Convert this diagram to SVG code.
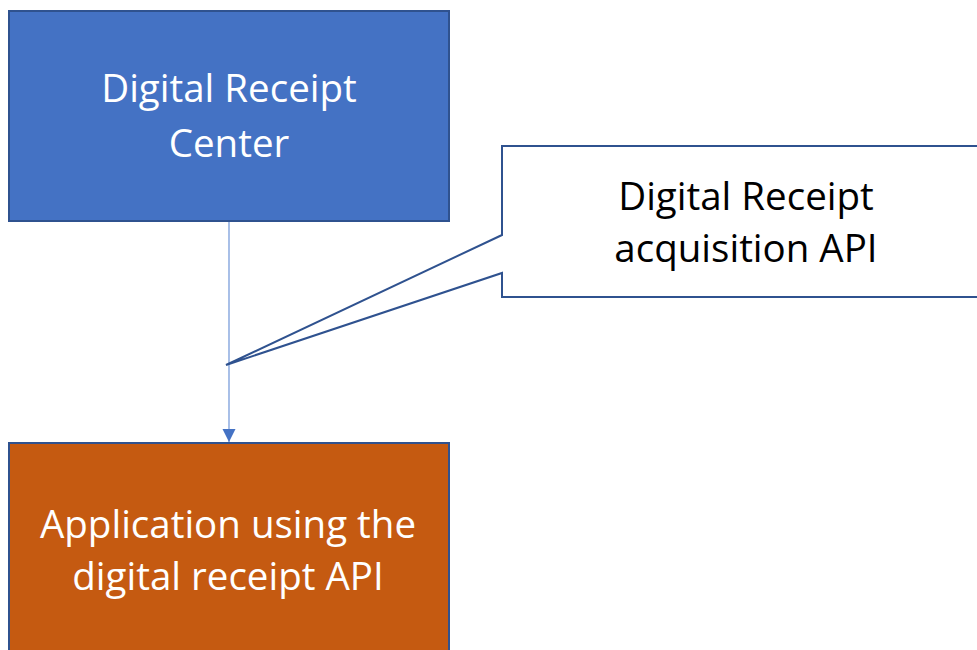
<svg xmlns="http://www.w3.org/2000/svg" width="977" height="650" viewBox="0 0 977 650">
<defs>
<style>
.t{font-family:"Open Sans","Liberation Sans",sans-serif;font-size:38.5px;text-anchor:middle}
.w{fill:#ffffff}
.k{fill:#000000}
.box{stroke:#2F528F;stroke-width:2}
</style>
<marker id="arr" markerWidth="14" markerHeight="14" refX="13" refY="6.5" orient="auto" markerUnits="userSpaceOnUse">
<path d="M0,0 L13,6.5 L0,13 Z" fill="#4472C4"/>
</marker>
</defs>
<rect width="977" height="650" fill="#ffffff"/>
<g id="connectors">
<line x1="229" y1="221" x2="229" y2="442" stroke="#6F95D8" stroke-width="1.2" marker-end="url(#arr)"/>
</g>
<g id="center">
<rect class="box" x="9" y="11" width="440" height="210" fill="#4472C4"/>
<text class="t w" x="229" y="102">Digital Receipt</text>
<text class="t w" x="229" y="157">Center</text>
</g>
<g id="application">
<rect class="box" x="9" y="443" width="440" height="220" fill="#C55A11"/>
<text class="t w" x="228" y="538">Application using the</text>
<text class="t w" x="228" y="590">digital receipt API</text>
</g>
<g id="callout">
<path class="box" d="M502,146 L990,146 L990,297 L502,297 L502,273 L226,365 L502,235 Z" fill="#ffffff"/>
<text class="t k" x="746" y="210">Digital Receipt</text>
<text class="t k" x="746" y="262">acquisition API</text>
</g>
</svg>
